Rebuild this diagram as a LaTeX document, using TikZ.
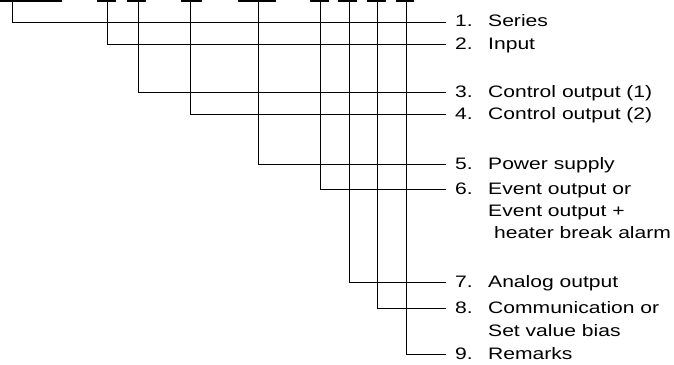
\documentclass[tikz,border=0pt]{standalone}
\usepackage{fontspec}
\setmainfont{Liberation Sans}[FakeStretch=1.27]
\newcommand{\num}[1]{\makebox[33pt][l]{#1}}
\tikzset{
  item/.style={anchor=west, inner xsep=9pt, inner ysep=0pt,
    text height=10pt, text depth=0pt, font=\fontsize{16.6}{19}\selectfont},
  lead/.style={line width=1pt},
  bar/.style={line width=2.6pt}
}
\begin{document}
\begin{tikzpicture}[x=1pt, y=-1pt]
      \useasboundingbox (0, 0) rectangle (674, 364);

      % code fields along the top
      \draw[bar] (0, 1) -- (62, 1);
      \draw[bar] (97, 1) -- (116, 1);
      \draw[bar] (127, 1) -- (146, 1);
      \draw[bar] (181, 1) -- (202, 1);
      \draw[bar] (238, 1) -- (276, 1);
      \draw[bar] (310, 1) -- (329, 1);
      \draw[bar] (338, 1) -- (357, 1);
      \draw[bar] (367, 1) -- (386, 1);
      \draw[bar] (396, 1) -- (414, 1);

      \coordinate (f1) at (12, 1);
      \coordinate (f2) at (107, 1);
      \coordinate (f3) at (138, 1);
      \coordinate (f4) at (190, 1);
      \coordinate (f5) at (258, 1);
      \coordinate (f6) at (320, 1);
      \coordinate (f7) at (349, 1);
      \coordinate (f8) at (377, 1);
      \coordinate (f9) at (406, 1);

      % labels
      \node[item] (l1) at (446, 22) {\num{1.}Series};
      \node[item] (l2) at (446, 44) {\num{2.}Input};
      \node[item] (l3) at (446, 92) {\num{3.}Control output (1)};
      \node[item] (l4) at (446, 114) {\num{4.}Control output (2)};
      \node[item] (l5) at (446, 164) {\num{5.}Power supply};
      \node[item] (l6) at (446, 189) {\num{6.}Event output or};
      \node[item] (l6b) at (446, 211) {\num{}Event output +};
      \node[item] (l6c) at (446, 233) {\num{}\ heater break alarm};
      \node[item] (l7) at (446, 282) {\num{7.}Analog output};
      \node[item] (l8) at (446, 308) {\num{8.}Communication or};
      \node[item] (l8b) at (446, 331) {\num{}Set value bias};
      \node[item] (l9) at (446, 354) {\num{9.}Remarks};

      % leader lines
      \draw[lead] (f1) |- (l1.west);
      \draw[lead] (f2) |- (l2.west);
      \draw[lead] (f3) |- (l3.west);
      \draw[lead] (f4) |- (l4.west);
      \draw[lead] (f5) |- (l5.west);
      \draw[lead] (f6) |- (l6.west);
      \draw[lead] (f7) |- (l7.west);
      \draw[lead] (f8) |- (l8.west);
      \draw[lead] (f9) |- (l9.west);

    \end{tikzpicture}
\end{document}
